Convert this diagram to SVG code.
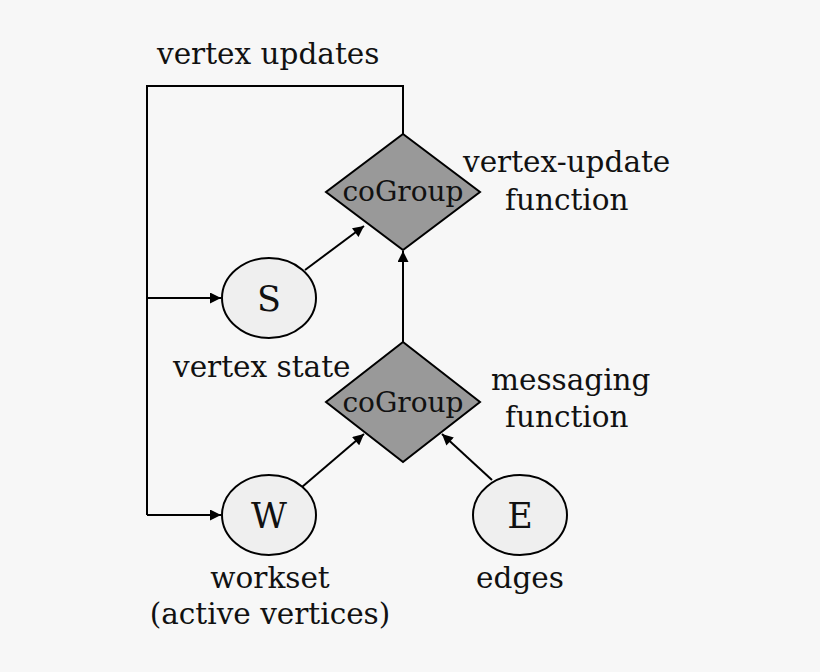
<svg xmlns="http://www.w3.org/2000/svg" width="820" height="672" viewBox="0 0 820 672">
<style>
text{font-family:"DejaVu Serif","Liberation Serif",serif;fill:#111}
.l{font-size:29.5px}
.c{font-size:28px;text-anchor:middle}
.n{font-size:35px;text-anchor:middle}
.m{text-anchor:middle}
.d{fill:#999;stroke:#000;stroke-width:2}
.o{fill:#efefef;stroke:#000;stroke-width:2}
.e{fill:none;stroke:#000;stroke-width:2}
</style>
<defs><marker id="a" viewBox="0 0 10 10" refX="10" refY="5" markerWidth="12" markerHeight="11" orient="auto" markerUnits="userSpaceOnUse"><path d="M0,0L10,5L0,10z" fill="#000"/></marker></defs>
<rect width="820" height="672" fill="#f7f7f7"/>
<g id="connectors">
<path class="e" d="M403,134V86H147V515"/>
<path class="e" d="M147,298H221" marker-end="url(#a)"/>
<path class="e" d="M147,515H221" marker-end="url(#a)"/>
<path class="e" d="M305,270L364,226" marker-end="url(#a)"/>
<path class="e" d="M302,487L364,434" marker-end="url(#a)"/>
<path class="e" d="M492,480L442,434" marker-end="url(#a)"/>
<path class="e" d="M403,342V251" marker-end="url(#a)"/>
</g>
<g id="vertexUpdate"><path class="d" d="M403,134L480,192L403,250L326,192z"/><text class="c" x="403" y="201">coGroup</text></g>
<g id="messaging"><path class="d" d="M403,342L480,402L403,462L326,402z"/><text class="c" x="403" y="412">coGroup</text></g>
<g id="S"><ellipse class="o" cx="269" cy="298" rx="47" ry="40"/><text class="n" x="269" y="311">S</text></g>
<g id="W"><ellipse class="o" cx="269" cy="515" rx="47" ry="40"/><text class="n" x="269" y="528">W</text></g>
<g id="E"><ellipse class="o" cx="520" cy="515" rx="47" ry="40"/><text class="n" x="520" y="528">E</text></g>
<g id="labels">
<text class="l" x="157" y="64">vertex updates</text>
<text class="l" x="463" y="172">vertex-update</text>
<text class="l" x="505" y="210">function</text>
<text class="l" x="173" y="377">vertex state</text>
<text class="l" x="491" y="390">messaging</text>
<text class="l" x="505" y="427">function</text>
<text class="l m" x="270" y="588">workset</text>
<text class="l m" x="270" y="624">(active vertices)</text>
<text class="l m" x="520" y="588">edges</text>
</g>
</svg>
